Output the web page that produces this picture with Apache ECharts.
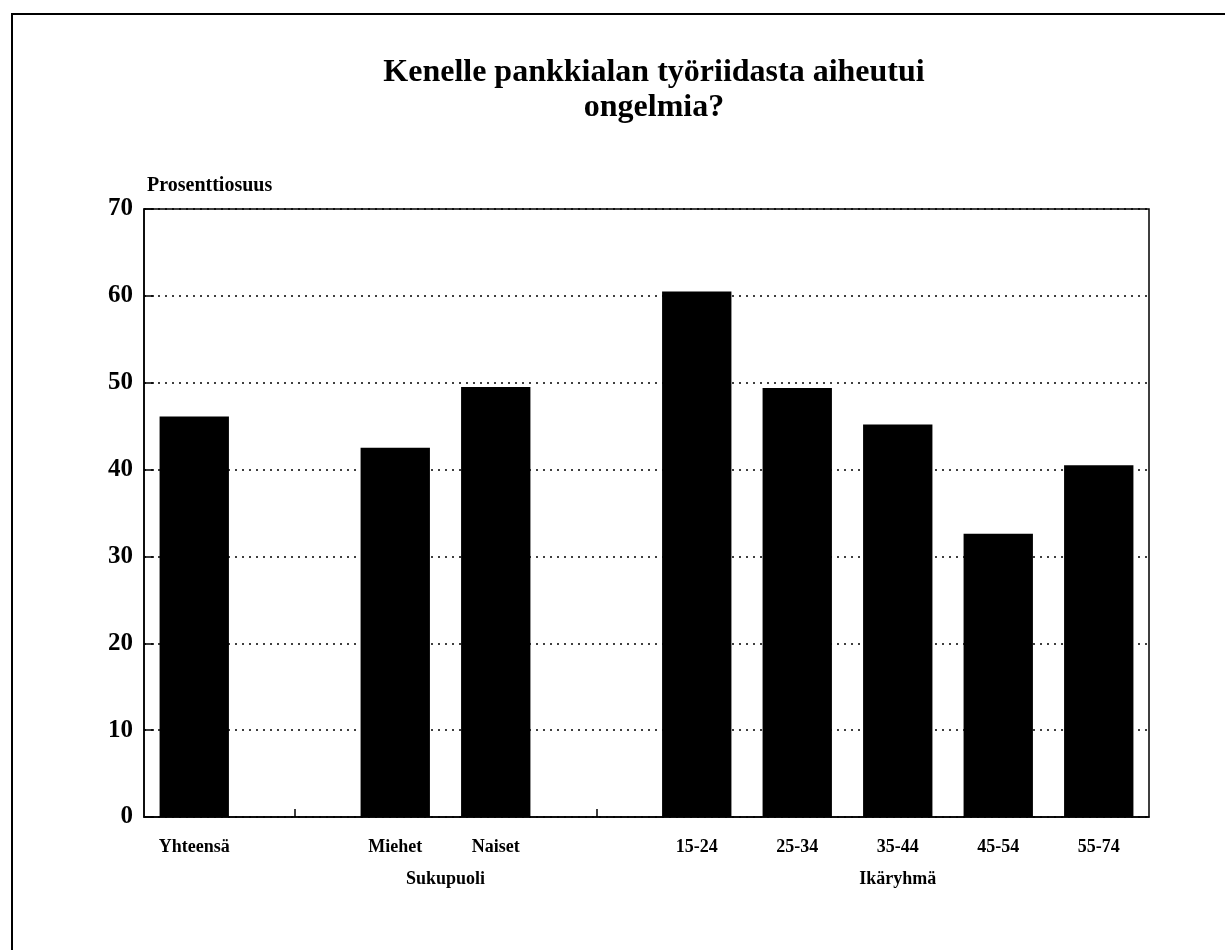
<!DOCTYPE html>
<html>
<head>
<meta charset="utf-8">
<title>Kenelle pankkialan työriidasta aiheutui ongelmia?</title>
<script src="https://cdn.jsdelivr.net/npm/echarts@6/dist/echarts.min.js"></script>
<style>
  html, body { margin: 0; padding: 0; background: #fff; }
  #chart { width: 1225px; height: 950px; }
</style>
</head>
<body>
<div id="chart"></div>
<script>
// categories, '' = empty gap slot between groups
const categories = ['Yhteensä', '', 'Miehet', 'Naiset', '', '15-24', '25-34', '35-44', '45-54', '55-74'];
const values = [46.1, null, 42.5, 49.5, null, 60.5, 49.4, 45.2, 32.6, 40.5];
const yTicks = [0, 10, 20, 30, 40, 50, 60, 70];
// group labels under the axis: [text, first category index, last category index]
const groups = [
  ['Sukupuoli', 2, 3],
  ['Ikäryhmä', 5, 9]
];

const serif = '"Liberation Serif", "DejaVu Serif", serif';
const chart = echarts.init(document.getElementById('chart'));

chart.setOption({
  backgroundColor: '#fff',
  animation: false,
  title: {
    text: 'Kenelle pankkialan työriidasta aiheutui\nongelmia?',
    left: 649,
    top: 50,
    textAlign: 'center',
    textStyle: {
      fontFamily: serif,
      fontSize: 32,
      fontWeight: 'bold',
      color: '#000',
      lineHeight: 35
    }
  },
  grid: {
    left: 144,
    right: 76,
    top: 209,
    bottom: 133,
    show: true,
    borderColor: '#000',
    borderWidth: 1.5,
    backgroundColor: 'transparent'
  },
  xAxis: {
    type: 'category',
    data: categories,
    axisLine: { lineStyle: { color: '#000', width: 1.5 } },
    axisTick: {
      show: true,
      inside: true,
      length: 8,
      alignWithLabel: true,
      interval: (idx) => categories[idx] === '',
      lineStyle: { color: '#000', width: 1.5 }
    },
    axisLabel: {
      interval: 0,
      margin: 21,
      fontFamily: serif,
      fontSize: 18,
      fontWeight: 'bold',
      color: '#000'
    },
    splitLine: { show: false }
  },
  yAxis: {
    type: 'value',
    min: yTicks[0],
    max: yTicks[yTicks.length - 1],
    interval: 10,
    name: 'Prosenttiosuus',
    nameLocation: 'end',
    nameGap: 13,
    nameTextStyle: {
      fontFamily: serif,
      fontSize: 20,
      fontWeight: 'bold',
      color: '#000',
      align: 'left',
      padding: [0, 0, 0, 3]
    },
    axisLine: { show: true, lineStyle: { color: '#000', width: 1.5 } },
    axisTick: { show: true, inside: true, length: 10, lineStyle: { color: '#000', width: 1.5 } },
    axisLabel: {
      margin: 11,
      fontFamily: serif,
      fontSize: 25,
      fontWeight: 'bold',
      color: '#000'
    },
    splitLine: {
      show: true,
      lineStyle: { color: '#000', type: [2, 5], width: 1.5 }
    }
  },
  series: [{
    type: 'bar',
    data: values,
    barWidth: '69%',
    itemStyle: { color: '#000' }
  }]
});

// group labels centred under their categories
const groupGraphics = groups.map(([text, a, b]) => {
  const x1 = chart.convertToPixel({ xAxisIndex: 0 }, categories[a]);
  const x2 = chart.convertToPixel({ xAxisIndex: 0 }, categories[b]);
  return {
    type: 'text',
    x: (x1 + x2) / 2,
    y: 879,
    style: {
      text: text,
      fontFamily: serif,
      fontSize: 18,
      fontWeight: 'bold',
      fill: '#000',
      align: 'center',
      verticalAlign: 'middle'
    }
  };
});

chart.setOption({
  graphic: [
    {
      type: 'rect',
      shape: { x: 12, y: 14, width: 1400, height: 1200 },
      style: { fill: 'none', stroke: '#000', lineWidth: 2 }
    }
  ].concat(groupGraphics)
});
</script>
</body>
</html>
